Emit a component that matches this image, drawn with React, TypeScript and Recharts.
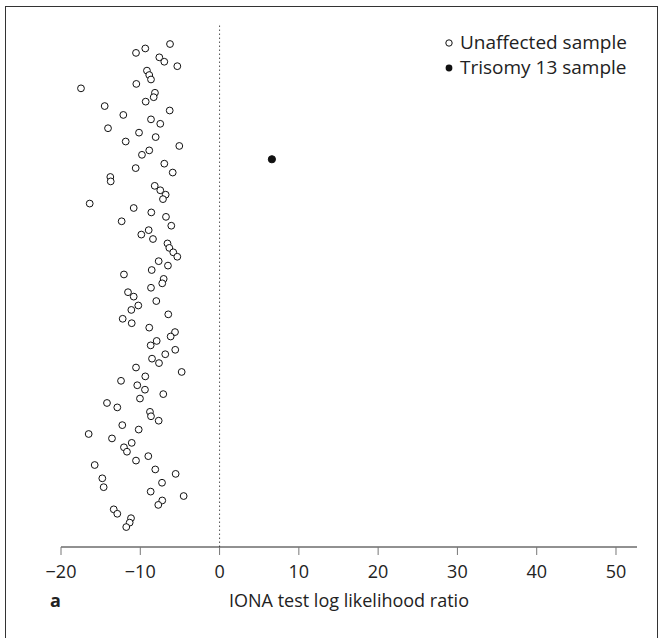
import React from 'react';
import { ScatterChart, Scatter, XAxis, YAxis, ReferenceLine } from 'recharts';

const xTicks = [-20, -10, 0, 10, 20, 30, 40, 50];

// log likelihood ratio of each unaffected sample, top to bottom
const unaffectedLLR = [
  -6.25, -9.37, -10.54, -7.6, -6.97, -5.33, -9.16, -8.87, -8.65, -10.5,
  -17.48, -8.15, -8.31, -9.32, -14.49, -6.29, -12.14, -8.65, -7.48, -14.07,
  -10.16, -8.06, -11.84, -5.08, -8.87, -9.79, -6.97, -10.58, -5.91, -13.78,
  -13.73, -8.18, -7.48, -6.8, -7.14, -16.38, -10.83, -8.61, -6.76, -12.35,
  -6.09, -8.94, -9.87, -8.4, -6.57, -6.34, -5.84, -5.33, -7.68, -6.51,
  -8.56, -12.06, -7.05, -7.23, -8.65, -11.55, -10.83, -7.98, -10.25, -11.13,
  -6.47, -12.22, -11.08, -8.87, -5.62, -6.17, -7.93, -8.69, -5.59, -6.85,
  -8.52, -7.64, -10.54, -4.78, -9.37, -12.43, -10.38, -9.41, -7.1, -10.04,
  -14.2, -12.9, -8.78, -8.65, -7.68, -12.27, -10.2, -16.51, -13.57, -11.08,
  -12.06, -11.68, -8.99, -10.54, -15.75, -8.11, -5.54, -14.79, -7.26, -14.62,
  -8.69, -4.53, -7.23, -7.73, -13.35, -12.9, -11.17, -11.34, -11.77,
];

const trisomyLLR = 6.6;
const trisomyOrder = 27;

const unaffected = unaffectedLLR.map((v, i) => ({
  llr: v,
  order: i + 1 < trisomyOrder ? i + 1 : i + 2,
}));
const trisomy = [{ llr: trisomyLLR, order: trisomyOrder }];

const font = '"Open Sans", "Noto Sans", sans-serif';

const OpenDot = (p: any) => (
  <circle cx={p.cx} cy={p.cy} r={3.4} fill="#fff" stroke="#111" strokeWidth={1} />
);
const FilledDot = (p: any) => <circle cx={p.cx} cy={p.cy} r={3.6} fill="#111" stroke="#111" />;

const AxisTitle = (props: any) => {
  const { viewBox } = props;
  const cx = viewBox.x + viewBox.width / 2;
  return (
    <g style={{ fontFamily: font }}>
      <text x={cx} y={607} textAnchor="middle" fontSize={18} fill="#222">
        IONA test log likelihood ratio
      </text>
      <text x={50} y={607} fontSize={18} fontWeight="bold" fill="#222">
        a
      </text>
    </g>
  );
};

export default function App() {
  return (
    <div
      style={{
        position: 'absolute',
        left: 0,
        top: 0,
        width: 662,
        height: 638,
        background: '#fff',
        overflow: 'hidden',
      }}
    >
      <div
        style={{
          position: 'absolute',
          left: 5,
          top: 6,
          width: 651,
          height: 640,
          borderLeft: '1.5px solid #333',
          borderTop: '1.5px solid #333',
          borderRight: '1.5px solid #333',
        }}
      />
      <ScatterChart
        width={662}
        height={638}
        margin={{ top: 24, right: 25, bottom: 61, left: 61 }}
        style={{ position: 'absolute', left: 0, top: 0, fontFamily: font }}
      >
        <XAxis
          dataKey="llr"
          type="number"
          domain={[-20, 52.65]}
          ticks={xTicks}
          allowDataOverflow
          height={30}
          tickFormatter={(v: number) => (v < 0 ? '\u2212' + Math.abs(v) : String(v))}
          tick={{ fill: '#222', fontSize: 18 }}
          tickSize={8}
          tickMargin={10}
          tickLine={{ stroke: '#777' }}
          axisLine={{ stroke: '#222' }}
          label={<AxisTitle />}
        />
        <YAxis
          dataKey="order"
          type="number"
          domain={[-3.52, 114.5]}
          reversed
          width={0}
          tick={false}
          tickLine={false}
          axisLine={{ stroke: '#444' }}
        />
        <ReferenceLine x={0} stroke="#555" strokeDasharray="1.5 2.5" />
        <Scatter
          name="Unaffected sample"
          data={unaffected}
          shape={OpenDot}
          isAnimationActive={false}
        />
        <Scatter
          name="Trisomy 13 sample"
          data={trisomy}
          shape={FilledDot}
          isAnimationActive={false}
        />
      </ScatterChart>
      <svg
        width={215}
        height={60}
        overflow="visible"
        style={{ position: 'absolute', left: 443, top: 32, fontFamily: font }}
      >
        <circle cx={6} cy={11} r={3.2} fill="#fff" stroke="#111" />
        <text x={17} y={17} fontSize={19} fill="#222">Unaffected sample</text>
        <circle cx={6} cy={36} r={3.4} fill="#111" />
        <text x={17} y={42} fontSize={19} fill="#222">Trisomy 13 sample</text>
      </svg>
    </div>
  );
}
